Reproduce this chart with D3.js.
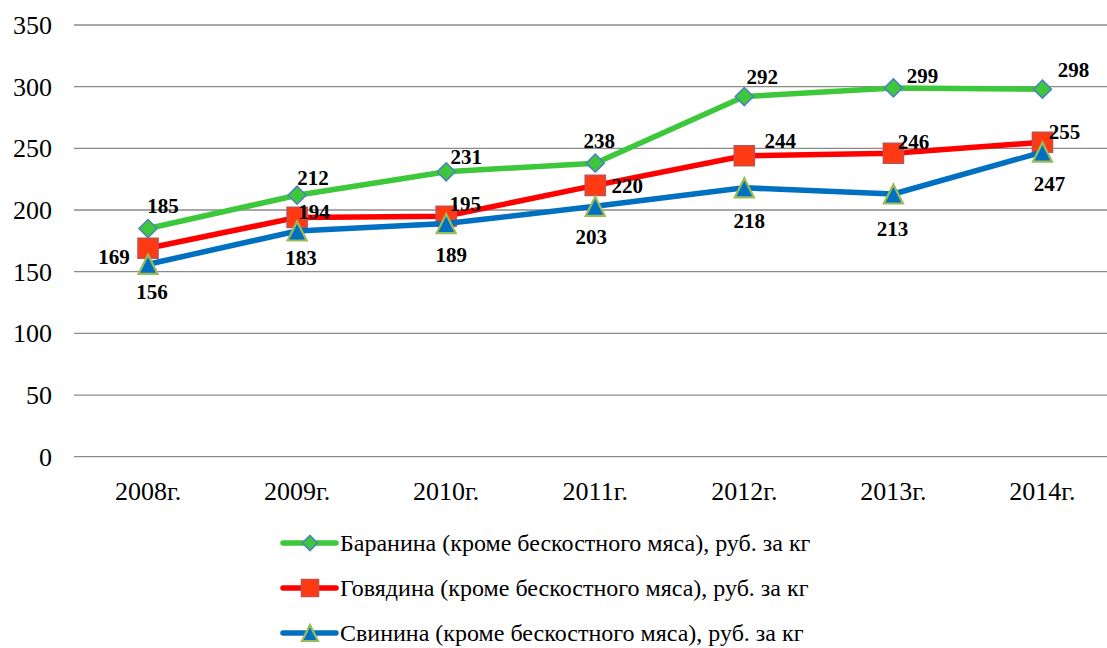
<!DOCTYPE html>
<html>
<head>
<meta charset="utf-8">
<script src="https://cdn.jsdelivr.net/npm/d3@7"></script>
</head>
<body style="margin:0">
<div id="wrap"></div>
<script>
const categories = ["2008г.", "2009г.", "2010г.", "2011г.", "2012г.", "2013г.", "2014г."];
const lamb = [185, 212, 231, 238, 292, 299, 298];
const beef = [169, 194, 195, 220, 244, 246, 255];
const pork = [156, 183, 189, 203, 218, 213, 247];
const yTicks = [0, 50, 100, 150, 200, 250, 300, 350];
const seriesNames = [
  "Баранина (кроме бескостного мяса), руб. за кг",
  "Говядина (кроме бескостного мяса), руб. за кг",
  "Свинина (кроме бескостного мяса), руб. за кг"
];

// label offsets (pixels, label centre relative to point)
const lambLabelOff = [[15,-23],[16,-18],[20,-15],[4,-22],[18,-20],[29,-12],[31,-19]];
const beefLabelOff = [[-34,8],[17,-6],[19,-13],[32,0],[36,-15],[20,-12],[22,-11]];
const porkLabelOff = [[4,27],[4,27],[5,31],[-4,30],[5,33],[-1,35],[7,32]];

const SERIF = "serif";
const svg = d3.select("#wrap").append("svg")
  .attr("width", 1107).attr("height", 648)
  .style("display", "block");
const x = d3.scaleBand().domain(categories).range([73.5, 1117]).padding(0);
const y = d3.scaleLinear().domain([0, 350]).range([456.7, 25]);
const cx = c => x(c) + x.bandwidth() / 2;

// gridlines
svg.append("g").selectAll("line").data(yTicks).join("line")
  .attr("x1", 74).attr("x2", 1107)
  .attr("y1", d => y(d)).attr("y2", d => y(d))
  .attr("stroke", "#8a8a8a").attr("stroke-width", 1.3);

// y axis labels
svg.append("g").selectAll("text").data(yTicks).join("text")
  .attr("x", 52).attr("y", d => y(d)).attr("dy", "0.34em")
  .attr("text-anchor", "end")
  .attr("font-family", SERIF).attr("font-size", 26).attr("fill", "#000")
  .text(d => d);

// x axis labels
svg.append("g").selectAll("text").data(categories).join("text")
  .attr("x", d => cx(d)).attr("y", y(0) + 43)
  .attr("text-anchor", "middle")
  .attr("font-family", SERIF).attr("font-size", 26).attr("fill", "#000")
  .text(d => d);

const series = [
  { name: seriesNames[0], values: lamb, off: lambLabelOff, color: "#3cc83a", marker: "diamond", fill: "#3cc83a", stroke: "#4f81bd" },
  { name: seriesNames[1], values: beef, off: beefLabelOff, color: "#ff0000", marker: "square", fill: "#ff3a12", stroke: "#c0504d" },
  { name: seriesNames[2], values: pork, off: porkLabelOff, color: "#0070c0", marker: "triangle", fill: "#0070c0", stroke: "#9bbb59" }
];

function markerPath(type, s) {
  if (type === "diamond") return `M0,${-s}L${s},0L0,${s}L${-s},0Z`;
  if (type === "square") return `M${-s},${-s}H${s}V${s}H${-s}Z`;
  return `M0,${-s}L${s},${s}L${-s},${s}Z`;
}
const markerHalf = { diamond: 9, square: 10, triangle: 9.5 };
const markerStrokeW = { diamond: 1.6, square: 1.6, triangle: 2.2 };

const line = d3.line().x((d, i) => cx(categories[i])).y(d => y(d));

series.forEach(s => {
  const g = svg.append("g");
  g.append("path").datum(s.values).attr("d", line)
    .attr("fill", "none").attr("stroke", s.color).attr("stroke-width", 5.5)
    .attr("stroke-linejoin", "round");
  g.selectAll("path.m").data(s.values).join("path").attr("class", "m")
    .attr("transform", (d, i) => `translate(${cx(categories[i])},${y(d)})`)
    .attr("d", markerPath(s.marker, markerHalf[s.marker]))
    .attr("fill", s.fill).attr("stroke", s.stroke).attr("stroke-width", markerStrokeW[s.marker]);
});

// data labels
series.forEach(s => {
  svg.append("g").selectAll("text").data(s.values).join("text")
    .attr("x", (d, i) => cx(categories[i]) + s.off[i][0])
    .attr("y", (d, i) => y(d) + s.off[i][1])
    .attr("dy", "0.35em")
    .attr("text-anchor", "middle")
    .attr("font-family", SERIF).attr("font-size", 21).attr("font-weight", "bold")
    .attr("fill", "#000")
    .text(d => d);
});

// legend
const legendY = [543, 588, 633];
const lg = svg.append("g");
series.forEach((s, i) => {
  const row = lg.append("g").attr("transform", `translate(0,${legendY[i]})`);
  row.append("line").attr("x1", 283).attr("x2", 336).attr("y1", 0).attr("y2", 0)
    .attr("stroke", s.color).attr("stroke-width", 5.5).attr("stroke-linecap", "round");
  row.append("path").attr("transform", "translate(310,0)")
    .attr("d", markerPath(s.marker, markerHalf[s.marker] - 1.5))
    .attr("fill", s.fill).attr("stroke", s.stroke).attr("stroke-width", markerStrokeW[s.marker]);
  row.append("text").attr("x", 340).attr("y", 0).attr("dy", "0.35em")
    .attr("font-family", SERIF).attr("font-size", 24).attr("fill", "#000").text(s.name);
});
</script>
</body>
</html>
